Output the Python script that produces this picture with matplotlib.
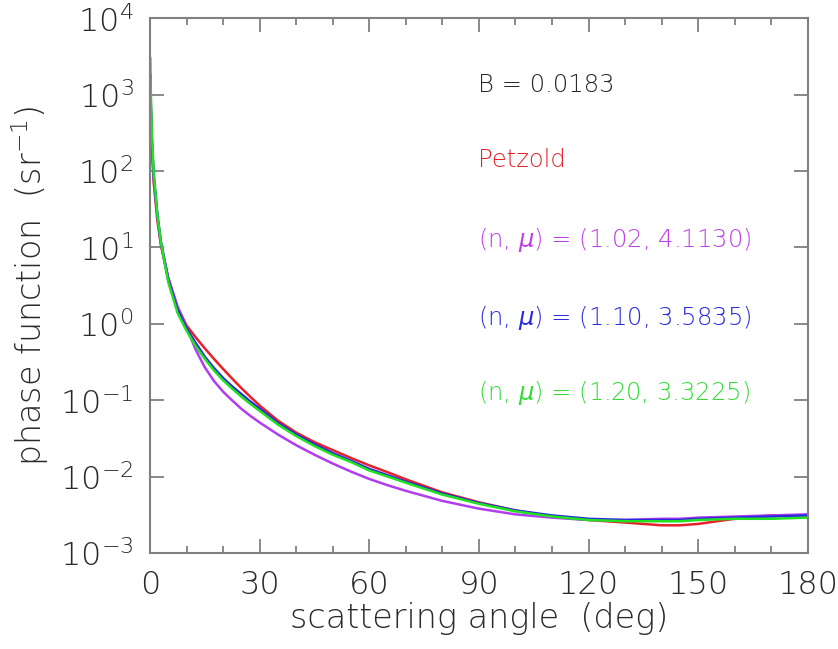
import numpy as np
import matplotlib
matplotlib.use('Agg')
import matplotlib.pyplot as plt
from matplotlib.ticker import MultipleLocator, LogLocator, NullLocator

# scattering angle (deg)
angle = [0.1, 0.2, 0.5, 1, 2, 3, 5, 7.5, 10, 12.5, 15, 17.5, 20, 22.5, 25, 27.5, 30,
         35, 40, 45, 50, 55, 60, 65, 70, 80, 90, 100, 110, 120, 130, 140, 145, 150,
         160, 170, 180]

petzold = [1767, 699, 219, 71.6, 22.8, 10.5, 3.9, 1.65, 0.95, 0.665, 0.476, 0.347, 0.256,
           0.191, 0.144, 0.110, 0.085, 0.054, 0.0376, 0.0282, 0.0222, 0.0175, 0.0140,
           0.0114, 0.0092, 0.0062, 0.0046, 0.0036, 0.0030, 0.0027, 0.0025, 0.0023,
           0.0023, 0.0024, 0.0028, 0.0031, 0.0031]
ff_102 = [1400, 650, 220, 80, 26, 11.5, 4.0, 1.7, 0.89, 0.457, 0.269, 0.178, 0.129,
          0.099, 0.077, 0.062, 0.051, 0.0355, 0.0257, 0.0193, 0.0148, 0.0116, 0.0093,
          0.0077, 0.0065, 0.0048, 0.0038, 0.0032, 0.0029, 0.0027, 0.0027, 0.0028,
          0.0028, 0.0029, 0.0030, 0.0031, 0.0032]
ff_110 = [1800, 850, 270, 90, 27, 11.5, 3.7, 1.55, 0.87, 0.56, 0.37, 0.263, 0.195,
          0.151, 0.120, 0.0955, 0.0776, 0.0505, 0.0357, 0.0265, 0.0203, 0.0161, 0.0126,
          0.0104, 0.0086, 0.0060, 0.0045, 0.0036, 0.0031, 0.0028, 0.0027, 0.0027,
          0.0027, 0.0028, 0.0029, 0.0030, 0.0031]
ff_120 = [3000, 1200, 320, 95, 27, 11.5, 3.5, 1.4, 0.81, 0.51, 0.347, 0.245, 0.182,
          0.141, 0.111, 0.089, 0.0724, 0.0479, 0.0339, 0.0251, 0.0193, 0.0155, 0.0120,
          0.0100, 0.0083, 0.0058, 0.0044, 0.0035, 0.0030, 0.0027, 0.0026, 0.0026,
          0.0026, 0.0027, 0.0028, 0.0028, 0.0029]

red = '#e8202a'
magenta = '#b23cf0'
blue = '#2a2ae0'
green = '#22e022'
gray = '#808080'
ink = '#2a2a2a'

plt.rcParams['font.family'] = ['DejaVu Sans']
plt.rcParams['font.weight'] = 'light'
plt.rcParams['axes.labelweight'] = 'light'

fig = plt.figure(figsize=(8.38, 6.49), dpi=100)
ax = fig.add_axes([0.179, 0.148, 0.785, 0.824])

ax.plot(angle, petzold, color=red, lw=1.8)
ax.plot(angle, ff_102, color=magenta, lw=1.8)
ax.plot(angle, ff_110, color=blue, lw=1.8)
ax.plot(angle, ff_120, color=green, lw=1.8)

ax.set_yscale('log')
ax.set_xlim(0, 180)
ax.set_ylim(1e-3, 1e4)
ax.xaxis.set_major_locator(MultipleLocator(30))
ax.xaxis.set_minor_locator(MultipleLocator(10))
ax.yaxis.set_major_locator(LogLocator(base=10, numticks=10))
ax.yaxis.set_minor_locator(NullLocator())

for s in ax.spines.values():
    s.set_color(gray)
    s.set_linewidth(1.5)
ax.tick_params(which='both', direction='in', top=True, right=True, color=gray,
               labelsize=23, labelcolor=ink, width=1.3)
ax.tick_params(which='major', length=10, pad=12)
ax.tick_params(which='minor', length=5)

ax.set_xlabel('scattering angle  (deg)', fontsize=24, color=ink, labelpad=2)
ax.set_ylabel('phase function  (sr$^{-1}$)', fontsize=24, color=ink, labelpad=6)

tx = 0.498
fs = 17.5
ax.text(tx, 0.875, 'B = 0.0183', transform=ax.transAxes, fontsize=fs, color=ink, va='center')
ax.text(tx, 0.735, 'Petzold', transform=ax.transAxes, fontsize=fs, color=red, va='center')
ax.text(tx, 0.585, r'(n, $\mu$) = (1.02, 4.1130)', transform=ax.transAxes, fontsize=fs,
        color='#c040e8', va='center')
ax.text(tx, 0.44, r'(n, $\mu$) = (1.10, 3.5835)', transform=ax.transAxes, fontsize=fs,
        color=blue, va='center')
ax.text(tx, 0.30, r'(n, $\mu$) = (1.20, 3.3225)', transform=ax.transAxes, fontsize=fs,
        color='#33dd33', va='center')

fig.savefig('out.png', dpi=100)
